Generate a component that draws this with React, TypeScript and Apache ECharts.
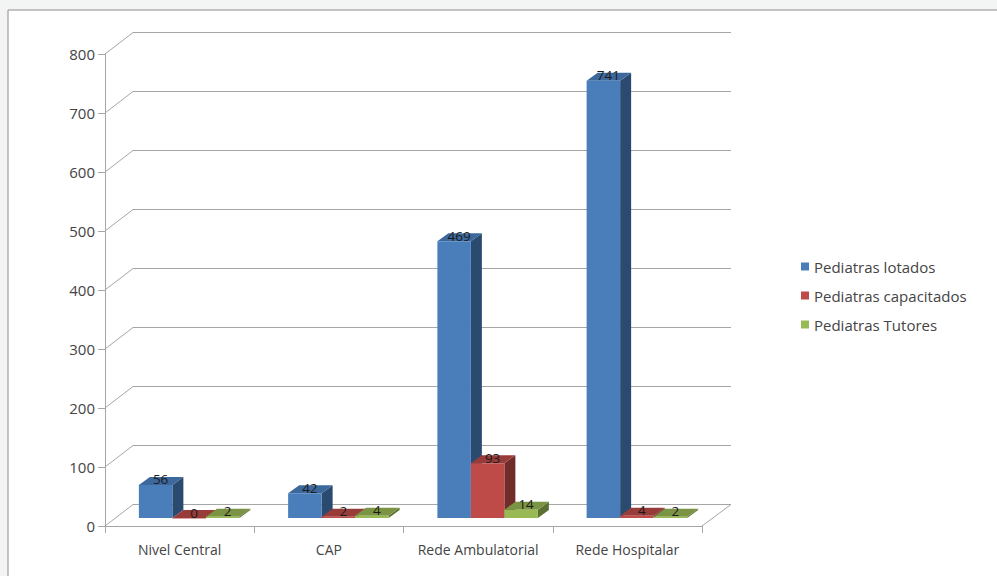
import React, { useEffect, useRef } from "react";
import * as echarts from "echarts";

const categories = ["Nivel Central", "CAP", "Rede Ambulatorial", "Rede Hospitalar"];
const lotados = [56, 42, 469, 741];
const capacitados = [0, 2, 93, 4];
const tutores = [2, 4, 14, 2];
const yTicks = [0, 100, 200, 300, 400, 500, 600, 700, 800];

const FONT = "'Open Sans', sans-serif";
const TEXT = "#444444";
const LINE = "#a6a6a6";

const GROUP_SHIFT = 9.5;
const BAR_RATIO = 33.5 / 149.25;
const DEPTH_X = 11;
const DEPTH_Y = 8;
const WALL_X = 28;
const WALL_Y = 21.5;

function barSeries(name: string, values: number[], index: number, front: string, top: string, side: string) {
  return {
    type: "custom",
    name,
    itemStyle: { color: front },
    encode: { x: 0, y: 1 },
    data: values.map((v, i) => [i, v]),
    z: 5 + index,
    renderItem: (_p: any, api: any) => {
      const cat = api.value(0);
      const val = api.value(1);
      const w = api.size([1, 0])[0] * BAR_RATIO;
      const pTop = api.coord([cat, val]);
      const pBase = api.coord([cat, 0]);
      const x0 = pTop[0] + GROUP_SHIFT + (index - 1.5) * w;
      const x1 = x0 + w;
      const yT = pTop[1] - DEPTH_Y;
      const yB = pBase[1] - DEPTH_Y;
      const h = yB - yT;
      return {
        type: "group",
        children: [
          { type: "polygon", shape: { points: [[x1, yT], [x1 + DEPTH_X, yT - DEPTH_Y], [x1 + DEPTH_X, yB - DEPTH_Y], [x1, yB]] }, style: { fill: side } },
          { type: "polygon", shape: { points: [[x0, yT], [x0 + DEPTH_X, yT - DEPTH_Y], [x1 + DEPTH_X, yT - DEPTH_Y], [x1, yT]] }, style: { fill: top } },
          { type: "rect", shape: { x: x0, y: yT, width: w, height: Math.max(h, 0.5) }, style: { fill: front } },
          {
            type: "text",
            z2: 100,
            style: {
              text: String(val),
              x: x0 + w / 2 + 5,
              y: yT - 5.5,
              align: "center",
              verticalAlign: "middle",
              fill: "#1a1a1a",
              font: `13.5px ${FONT}`,
            },
          },
        ],
      };
    },
  };
}

export default function App() {
  const ref = useRef<HTMLDivElement>(null);
  useEffect(() => {
    document.body.style.margin = "0";
    const chart = echarts.init(ref.current!, undefined, { renderer: "svg" });
    chart.setOption({
      animation: false,
      backgroundColor: "#f3f5f4",
      graphic: [
        {
          type: "rect",
          z: -10,
          shape: { x: 8, y: 10, width: 995, height: 572 },
          style: { fill: "#ffffff", stroke: "#8c8c8c", lineWidth: 1 },
        },
      ],
      grid: { left: 105, top: 54, width: 597, height: 472, containLabel: false },
      xAxis: {
        type: "category",
        data: categories,
        axisLine: { lineStyle: { color: LINE } },
        axisTick: { show: true, interval: 0, length: 7, lineStyle: { color: LINE } },
        axisLabel: { color: TEXT, interval: 0, margin: 16, fontSize: 14, fontFamily: FONT },
      },
      yAxis: {
        type: "value",
        min: 0,
        max: 800,
        interval: 100,
        splitLine: { show: false },
        axisLine: { show: true, lineStyle: { color: LINE } },
        axisTick: { show: true, length: 7, lineStyle: { color: LINE } },
        axisLabel: { color: TEXT, margin: 10, fontSize: 15, fontFamily: FONT },
      },
      legend: {
        orient: "vertical",
        left: 796,
        top: 254,
        itemWidth: 8,
        itemHeight: 8,
        itemGap: 14,
        icon: "rect",
        textStyle: { color: TEXT, fontSize: 15, fontFamily: FONT },
        data: ["Pediatras lotados", "Pediatras capacitados", "Pediatras Tutores"],
      },
      series: [
        {
          type: "custom",
          name: "walls",
          silent: true,
          z: 1,
          encode: { y: 0 },
          data: yTicks.map((t) => [t]),
          renderItem: (_p: any, api: any) => {
            const v = api.value(0);
            const left = api.coord([0, v]);
            const x0 = _p.coordSys.x;
            const x1 = x0 + _p.coordSys.width;
            const y = left[1];
            const style = { stroke: LINE, lineWidth: 1, fill: "none" };
            const children: any[] = [
              { type: "line", shape: { x1: x0, y1: y, x2: x0 + WALL_X, y2: y - WALL_Y }, style },
              { type: "line", shape: { x1: x0 + WALL_X, y1: y - WALL_Y, x2: x1 + WALL_X + 1, y2: y - WALL_Y }, style },
            ];
            if (v === 0) {
              children.push({ type: "line", shape: { x1: x1, y1: y, x2: x1 + WALL_X + 1, y2: y - WALL_Y }, style });
            }
            return { type: "group", children };
          },
        },
        barSeries("Pediatras lotados", lotados, 0, "#4a7ebb", "#3d689c", "#2a4a70"),
        barSeries("Pediatras capacitados", capacitados, 1, "#be4b48", "#983c3a", "#6f2c2a"),
        barSeries("Pediatras Tutores", tutores, 2, "#98b954", "#7a9443", "#5b6f32"),
      ],
    });
    return () => chart.dispose();
  }, []);
  return <div ref={ref} style={{ width: 997, height: 576 }} />;
}
